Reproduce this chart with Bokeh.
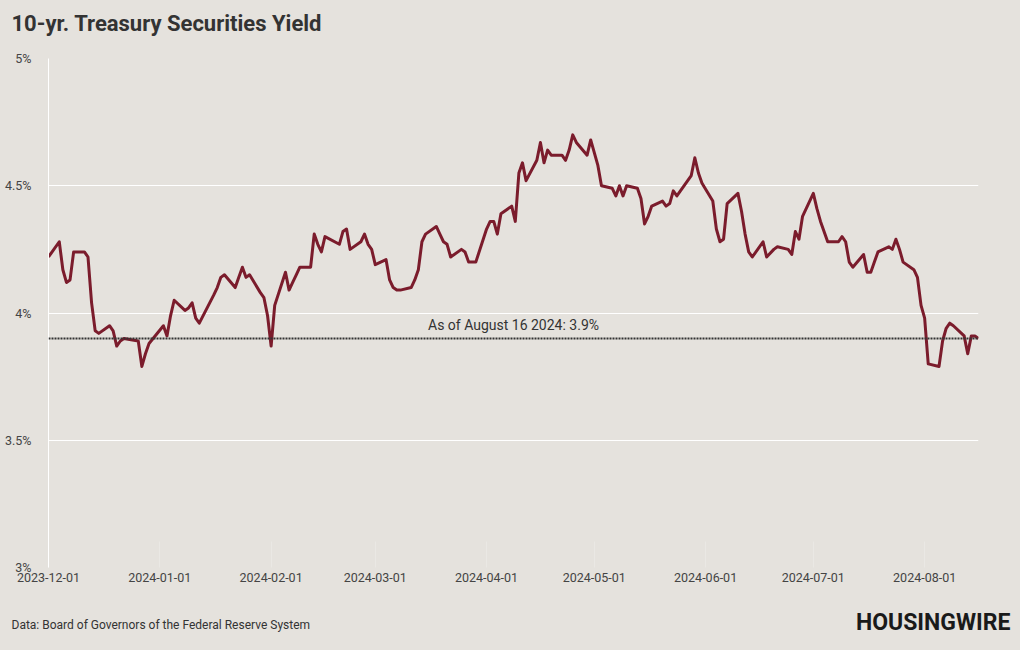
import pandas as pd
from bokeh.plotting import figure
from bokeh.layouts import column
from bokeh.models import (Range1d, FixedTicker, DatetimeTickFormatter, CustomJSTickFormatter,
                          Label, Span, ColumnDataSource)
from bokeh.embed import file_html
from bokeh.resources import INLINE

# ---------------- data ----------------
dates_dec = ["2023-12-01", "2023-12-04", "2023-12-05", "2023-12-06", "2023-12-07", "2023-12-08",
             "2023-12-11", "2023-12-12", "2023-12-13", "2023-12-14", "2023-12-15", "2023-12-18",
             "2023-12-19", "2023-12-20", "2023-12-21", "2023-12-22", "2023-12-26", "2023-12-27",
             "2023-12-28", "2023-12-29"]
yield_dec = [4.22, 4.28, 4.17, 4.12, 4.13, 4.24, 4.24, 4.22, 4.04, 3.93, 3.92, 3.95,
             3.93, 3.87, 3.89, 3.90, 3.89, 3.79, 3.84, 3.88]

dates_jan = ["2024-01-02", "2024-01-03", "2024-01-04", "2024-01-05", "2024-01-08", "2024-01-09",
             "2024-01-10", "2024-01-11", "2024-01-12", "2024-01-16", "2024-01-17", "2024-01-18",
             "2024-01-19", "2024-01-22", "2024-01-23", "2024-01-24", "2024-01-25", "2024-01-26",
             "2024-01-29", "2024-01-30", "2024-01-31"]
yield_jan = [3.95, 3.91, 3.99, 4.05, 4.01, 4.02, 4.04, 3.98, 3.96, 4.07, 4.10, 4.14,
             4.15, 4.10, 4.14, 4.18, 4.14, 4.15, 4.08, 4.06, 3.99]

dates_feb = ["2024-02-01", "2024-02-02", "2024-02-05", "2024-02-06", "2024-02-07", "2024-02-08",
             "2024-02-09", "2024-02-12", "2024-02-13", "2024-02-14", "2024-02-15", "2024-02-16",
             "2024-02-20", "2024-02-21", "2024-02-22", "2024-02-23", "2024-02-26", "2024-02-27",
             "2024-02-28", "2024-02-29"]
yield_feb = [3.87, 4.03, 4.16, 4.09, 4.12, 4.15, 4.18, 4.18, 4.31, 4.27, 4.24, 4.30,
             4.27, 4.32, 4.33, 4.25, 4.28, 4.31, 4.27, 4.25]

dates_mar = ["2024-03-01", "2024-03-04", "2024-03-05", "2024-03-06", "2024-03-07", "2024-03-08",
             "2024-03-11", "2024-03-12", "2024-03-13", "2024-03-14", "2024-03-15", "2024-03-18",
             "2024-03-19", "2024-03-20", "2024-03-21", "2024-03-22", "2024-03-25", "2024-03-26",
             "2024-03-27", "2024-03-28", "2024-03-29"]
yield_mar = [4.19, 4.21, 4.13, 4.10, 4.09, 4.09, 4.10, 4.13, 4.17, 4.28, 4.31, 4.34,
             4.31, 4.28, 4.27, 4.22, 4.25, 4.24, 4.20, 4.20, 4.20]

dates_apr = ["2024-04-01", "2024-04-02", "2024-04-03", "2024-04-04", "2024-04-05", "2024-04-08",
             "2024-04-09", "2024-04-10", "2024-04-11", "2024-04-12", "2024-04-15", "2024-04-16",
             "2024-04-17", "2024-04-18", "2024-04-19", "2024-04-22", "2024-04-23", "2024-04-24",
             "2024-04-25", "2024-04-26", "2024-04-29", "2024-04-30"]
yield_apr = [4.33, 4.36, 4.36, 4.31, 4.39, 4.42, 4.36, 4.55, 4.59, 4.52, 4.60, 4.67,
             4.59, 4.64, 4.62, 4.62, 4.60, 4.64, 4.70, 4.67, 4.62, 4.68]

dates_may = ["2024-05-01", "2024-05-02", "2024-05-03", "2024-05-06", "2024-05-07", "2024-05-08",
             "2024-05-09", "2024-05-10", "2024-05-13", "2024-05-14", "2024-05-15", "2024-05-16",
             "2024-05-17", "2024-05-20", "2024-05-21", "2024-05-22", "2024-05-23", "2024-05-24",
             "2024-05-28", "2024-05-29", "2024-05-30", "2024-05-31"]
yield_may = [4.63, 4.58, 4.50, 4.49, 4.46, 4.50, 4.46, 4.50, 4.49, 4.45, 4.35, 4.38,
             4.42, 4.44, 4.42, 4.43, 4.48, 4.46, 4.54, 4.61, 4.55, 4.51]

dates_jun = ["2024-06-03", "2024-06-04", "2024-06-05", "2024-06-06", "2024-06-07", "2024-06-10",
             "2024-06-11", "2024-06-12", "2024-06-13", "2024-06-14", "2024-06-17", "2024-06-18",
             "2024-06-20", "2024-06-21", "2024-06-24", "2024-06-25", "2024-06-26", "2024-06-27",
             "2024-06-28"]
yield_jun = [4.44, 4.33, 4.28, 4.29, 4.43, 4.47, 4.40, 4.31, 4.24, 4.22, 4.28, 4.22,
             4.25, 4.26, 4.25, 4.23, 4.32, 4.29, 4.38]

dates_jul = ["2024-07-01", "2024-07-02", "2024-07-03", "2024-07-05", "2024-07-08", "2024-07-09",
             "2024-07-10", "2024-07-11", "2024-07-12", "2024-07-15", "2024-07-16", "2024-07-17",
             "2024-07-18", "2024-07-19", "2024-07-22", "2024-07-23", "2024-07-24", "2024-07-25",
             "2024-07-26", "2024-07-29", "2024-07-30", "2024-07-31"]
yield_jul = [4.47, 4.41, 4.36, 4.28, 4.28, 4.30, 4.28, 4.20, 4.18, 4.23, 4.16, 4.16,
             4.20, 4.24, 4.26, 4.25, 4.29, 4.25, 4.20, 4.17, 4.14, 4.03]

dates_aug = ["2024-08-01", "2024-08-02", "2024-08-05", "2024-08-06", "2024-08-07", "2024-08-08",
             "2024-08-09", "2024-08-12", "2024-08-13", "2024-08-14", "2024-08-15", "2024-08-16"]
yield_aug = [3.98, 3.80, 3.79, 3.89, 3.94, 3.96, 3.95, 3.91, 3.84, 3.91, 3.91, 3.90]

x_ticks = ["2023-12-01", "2024-01-01", "2024-02-01", "2024-03-01", "2024-04-01",
           "2024-05-01", "2024-06-01", "2024-07-01", "2024-08-01"]
y_ticks = [3, 3.5, 4, 4.5, 5]

latest_value = 3.9
latest_label = "As of August 16 2024: 3.9%"
title_text = "10-yr. Treasury Securities Yield"
source_text = "Data: Board of Governors of the Federal Reserve System"
brand_text = "HOUSINGWIRE"

# ---------------- build ----------------
all_dates = (dates_dec + dates_jan + dates_feb + dates_mar + dates_apr + dates_may +
             dates_jun + dates_jul + dates_aug)
all_yields = (yield_dec + yield_jan + yield_feb + yield_mar + yield_apr + yield_may +
              yield_jun + yield_jul + yield_aug)
src = ColumnDataSource(dict(date=pd.to_datetime(all_dates), y=all_yields))

BG = "#e5e2dd"
FONT = "Roboto"
W = 1020
HEAD_H = 40
FOOT_H = 50


def strip(height):
    s = figure(width=W, height=height, output_backend="svg", toolbar_location=None,
               x_range=Range1d(0, W), y_range=Range1d(0, height),
               min_border_left=0, min_border_right=0, min_border_top=0, min_border_bottom=0,
               x_axis_location=None, y_axis_location=None)
    s.frame_align = False
    s.background_fill_color = BG
    s.border_fill_color = BG
    s.outline_line_color = None
    s.grid.visible = False
    return s


x_start = pd.Timestamp(all_dates[0])
x_end = pd.Timestamp(all_dates[-1])

# header strip with title
h = strip(HEAD_H)
h.add_layout(Label(x=11, y=HEAD_H - 23, text=title_text, text_baseline="middle",
                   text_font=FONT, text_font_style="bold", text_font_size="22px",
                   text_color="#333333"))

p = figure(width=W, height=650 - HEAD_H - FOOT_H, x_axis_type="datetime", output_backend="svg",
           toolbar_location=None,
           x_range=Range1d(x_start, x_end), y_range=Range1d(y_ticks[0], y_ticks[-1]),
           min_border_left=48, min_border_right=42, min_border_top=58 - HEAD_H,
           min_border_bottom=650 - FOOT_H - 567)
p.frame_align = False
p.background_fill_color = BG
p.border_fill_color = BG
p.outline_line_color = None

# grid
p.ygrid.grid_line_color = "white"
p.ygrid.grid_line_width = 1
p.xgrid.grid_line_color = None

# axes
tick_ms = [pd.Timestamp(t).value // 10**6 for t in x_ticks]
p.xaxis.ticker = FixedTicker(ticks=tick_ms)
fmt = "%Y-%m-%d"
p.xaxis.formatter = DatetimeTickFormatter(milliseconds=fmt, seconds=fmt, minsec=fmt, minutes=fmt,
                                          hourmin=fmt, hours=fmt, days=fmt, months=fmt, years=fmt)
p.xaxis.axis_line_color = None
p.xaxis.major_tick_in = 26
p.xaxis.major_tick_out = 0
p.xaxis.major_tick_line_color = "white"
p.xaxis.major_tick_line_alpha = 0.22
p.xaxis.minor_tick_line_color = None
p.xaxis.major_label_standoff = 5

p.yaxis.ticker = FixedTicker(ticks=y_ticks)
p.yaxis.formatter = CustomJSTickFormatter(code="return tick + '%';")
p.yaxis.axis_line_color = "white"
p.yaxis.major_tick_line_color = None
p.yaxis.minor_tick_line_color = None
p.yaxis.major_label_standoff = 11

for ax in (p.xaxis, p.yaxis):
    ax.major_label_text_font = FONT
    ax.major_label_text_font_size = "12.5px"
    ax.major_label_text_color = "#444444"

# reference line
p.add_layout(Span(location=latest_value, dimension="width", line_color="#333333",
                  line_width=2, line_dash="2 1"))

# series
p.line("date", "y", source=src, line_color="#7b1c2c", line_width=3, line_join="round")

# annotation
mid = x_start + (x_end - x_start) / 2
p.add_layout(Label(x=mid, y=latest_value, text=latest_label, text_align="center",
                   text_baseline="bottom", y_offset=5, text_font=FONT,
                   text_font_size="14px", text_color="#333333"))

# footer strip
f = strip(FOOT_H)
f.add_layout(Label(x=11, y=FOOT_H - 24, text=source_text, text_baseline="middle",
                   text_font=FONT, text_font_size="12px", text_color="#333333"))
f.add_layout(Label(x=1010, y=FOOT_H - 22, text=brand_text, text_align="right",
                   text_baseline="middle", text_font=FONT, text_font_style="bold",
                   text_font_size="23px", text_color="#1a1a1a"))

layout = column(h, p, f, spacing=0, styles={"background-color": BG})
open("out.html", "w").write(file_html(layout, INLINE))
